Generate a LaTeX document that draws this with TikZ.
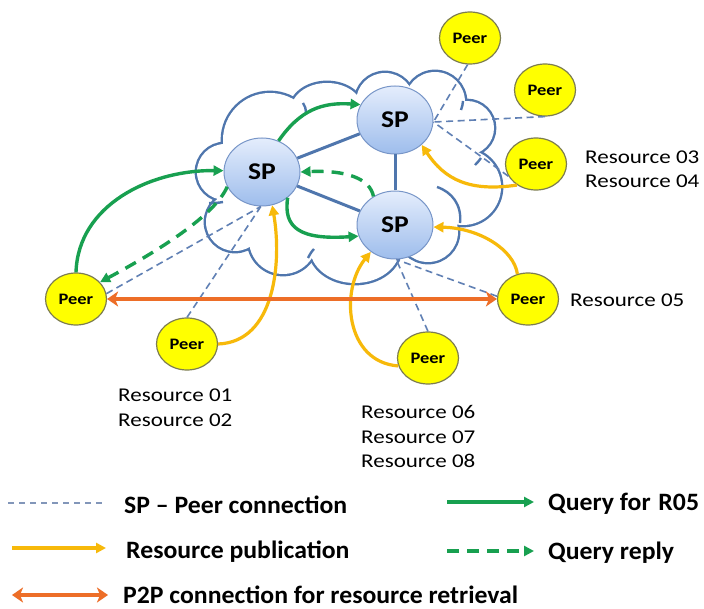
\documentclass[tikz,border=0pt]{standalone}
\usepackage{fontspec}
\setmainfont{Carlito}
\newfontfamily\resfont{Carlito}[FakeStretch=1.18]
\newfontfamily\legfont{Carlito}[FakeStretch=1.03]
\newfontfamily\nodefont{Carlito}[FakeStretch=1.15]
\usetikzlibrary{arrows.meta,shapes.geometric}
\definecolor{cloudc}{RGB}{79,118,173}
\definecolor{sptop}{RGB}{228,237,252}
\definecolor{spbot}{RGB}{158,189,236}
\definecolor{spdraw}{RGB}{120,150,200}
\definecolor{peerfill}{RGB}{255,255,0}
\definecolor{peerdraw}{RGB}{125,125,80}
\definecolor{gold}{RGB}{247,185,10}
\definecolor{qgreen}{RGB}{24,160,80}
\definecolor{ptop}{RGB}{237,110,40}
\definecolor{dashc}{RGB}{96,128,180}
\definecolor{legdash}{RGB}{130,150,185}
\tikzset{
  spnode/.style={ellipse, draw=spdraw, line width=1pt, top color=sptop, bottom color=spbot,
    minimum width=76pt, minimum height=68pt, inner sep=0pt,
    font=\nodefont\bfseries\fontsize{24}{24}\selectfont},
  peer/.style={ellipse, draw=peerdraw, line width=1.2pt, fill=peerfill,
    minimum width=61pt, minimum height=52pt, inner sep=0pt,
    font=\nodefont\bfseries\fontsize{16}{16}\selectfont},
  cloudline/.style={draw=cloudc, line width=4.8pt},
  splink/.style={draw=cloudc, line width=3pt},
  spdash/.style={draw=dashc, line width=1.6pt, dash pattern=on 7pt off 4.5pt},
  pub/.style={draw=gold, line width=3.2pt, -{Triangle[length=10pt,width=10pt]}},
  query/.style={draw=qgreen, line width=3.4pt, -{Triangle[length=10pt,width=10pt]}},
  reply/.style={draw=qgreen, line width=3.4pt, dash pattern=on 12pt off 8pt, -{Triangle[length=10pt,width=10pt]}},
  ptwo/.style={draw=ptop, line width=4pt, {Stealth[length=11pt,width=15pt,inset=3pt]}-{Stealth[length=11pt,width=15pt,inset=3pt]}},
  restext/.style={anchor=base west, inner sep=0pt, font=\resfont\fontsize{19.5}{19.5}\selectfont},
  legtext/.style={anchor=base west, inner sep=0pt, font=\legfont\bfseries\fontsize{25}{25}\selectfont},
  cloudarc/.style={draw=cloudc, line width=2.4pt},
}
\begin{document}
\begin{tikzpicture}[x=1pt,y=-1pt]
\useasboundingbox[fill=white] (0,0) rectangle (704,609);
% ---- cloud (union of bumps) ----
\draw[cloudline] (225,172) circle[radius=28pt];
\draw[cloudline] (235,222) circle[radius=29pt];
\draw[cloudline] (283,240) circle[radius=34pt];
\draw[cloudline] (355,248) ellipse[x radius=45pt, y radius=35pt];
\draw[cloudline] (428,232) circle[radius=30pt];
\draw[cloudline] (463,187) circle[radius=38pt];
\draw[cloudline] (467,128) circle[radius=27pt];
\draw[cloudline] (435,102) circle[radius=30pt];
\draw[cloudline] (385,102) circle[radius=29pt];
\draw[cloudline] (327,110) ellipse[x radius=36pt, y radius=27pt];
\draw[cloudline] (270,140) circle[radius=47pt];
\fill[white] (225,172) circle[radius=28pt];
\fill[white] (235,222) circle[radius=29pt];
\fill[white] (283,240) circle[radius=34pt];
\fill[white] (355,248) ellipse[x radius=45pt, y radius=35pt];
\fill[white] (428,232) circle[radius=30pt];
\fill[white] (463,187) circle[radius=38pt];
\fill[white] (467,128) circle[radius=27pt];
\fill[white] (435,102) circle[radius=30pt];
\fill[white] (385,102) circle[radius=29pt];
\fill[white] (327,110) ellipse[x radius=36pt, y radius=27pt];
\fill[white] (270,140) circle[radius=47pt];
\fill[white] (225,172) -- (270,140) -- (327,110) -- (385,102) -- (435,102) -- (467,128)
  -- (463,187) -- (428,232) -- (355,248) -- (283,240) -- (235,222) -- cycle;
% inner arcs of the cloud
\draw[cloudarc] (437,187) .. controls (452,192) and (462,205) .. (460,223);
\draw[cloudarc] (303,103) .. controls (305,106) and (306,109) .. (306,112);
\draw[cloudarc] (463,101) .. controls (463,104) and (462,107) .. (461,110);
\draw[cloudarc] (481,158) .. controls (479,161) and (477,163) .. (475,165);
\draw[cloudarc] (308,258) .. controls (310,254) and (312,251) .. (314,249);
\draw[cloudarc] (223,202) .. controls (218,203) and (214,203) .. (209,203);
% ---- nodes ----
\node[spnode] (sp1) at (262,172) {SP};
\node[spnode] (sp2) at (395,120) {SP};
\node[spnode] (sp3) at (395,225) {SP};
\node[peer] (pt) at (470,38) {Peer};
\node[peer] (p2) at (545,90) {Peer};
\node[peer] (p3) at (536,164) {Peer};
\node[peer] (pl) at (76,299) {Peer};
\node[peer] (pr) at (528,299) {Peer};
\node[peer] (pbl) at (187,344) {Peer};
\node[peer] (pb) at (428,358) {Peer};
% ---- SP links ----
\draw[splink] (sp1) -- (sp2);
\draw[splink] (sp1) -- (sp3);
\draw[splink] (sp2) -- (sp3);
% ---- SP-peer connections ----
\coordinate (c1) at (sp1.-92);
\coordinate (c2) at (sp2.-3);
\coordinate (c3) at (sp3.-88);
\draw[spdash] (pt.265) -- (c2);
\draw[spdash] (p2.south) -- (c2);
\draw[spdash] (p3.204) -- (c2);
\draw[spdash] (pl.10) -- (c1);
\draw[spdash] (pbl.north) -- (c1);
\draw[spdash] (pb.north) -- (c3);
\draw[spdash] (pr.175) -- (c3);
% ---- resource publication ----
\draw[pub] (pbl.east) .. controls (275,342) and (282,262) .. (sp1.-73);
\draw[pub] (pb.195) .. controls (345,362) and (340,290) .. (sp3.228);
\draw[pub] (pr.113) .. controls (514,250) and (480,228) .. (sp3.-3);
\draw[pub] (p3.228) .. controls (470,192) and (445,180) .. (sp2.-43);
% ---- query ----
\draw[query] (pl.north) .. controls (78,205) and (150,170) .. (sp1.178);
\draw[query] (sp1.62) .. controls (300,110) and (322,102) .. (sp2.156);
\draw[query] (sp1.-45) .. controls (283,228) and (300,240) .. (sp3.197);
% ---- reply ----
\draw[reply] (sp3.127) .. controls (370,178) and (345,170) .. (sp1.east);
\draw[reply] (sp1.203) .. controls (215,215) and (160,250) .. (pl.35);
% ---- P2P ----
\draw[ptwo] (pl.east) -- (pr.west);
% ---- resource labels ----
\node[restext] (r03) at (585,164) {Resource 03};
\node[restext] (r04) at (585,188) {Resource 04};
\node[restext] (r05) at (570,307) {Resource 05};
\node[restext] (r01) at (118,401) {Resource 01};
\node[restext] (r02) at (118,426) {Resource 02};
\node[restext] (r06) at (361,418) {Resource 06};
\node[restext] (r07) at (361,443) {Resource 07};
\node[restext] (r08) at (361,467) {Resource 08};
% ---- legend ----
\coordinate (la1) at (8,503);   \coordinate (lb1) at (106,503);
\coordinate (la2) at (12,548);  \coordinate (lb2) at (106,548);
\coordinate (la3) at (12,595);  \coordinate (lb3) at (108,595);
\coordinate (la4) at (447,502); \coordinate (lb4) at (534,502);
\coordinate (la5) at (447,551); \coordinate (lb5) at (534,551);
\draw[draw=legdash, line width=1.4pt, dash pattern=on 6pt off 5pt] (la1) -- (lb1);
\draw[pub] (la2) -- (lb2);
\draw[ptwo] (la3) -- (lb3);
\draw[query] (la4) -- (lb4);
\draw[reply] (la5) -- (lb5);
\node[legtext] (lt1) at (124,513) {SP – Peer connection};
\node[legtext] (lt2) at (126,558) {Resource publication};
\node[legtext] (lt3) at (123,603) {P2P connection for resource retrieval};
\node[legtext] (lt4) at (548,510) {Query for\hspace{2pt} R05};
\node[legtext] (lt5) at (548,559) {Query reply};
\end{tikzpicture}
\end{document}
